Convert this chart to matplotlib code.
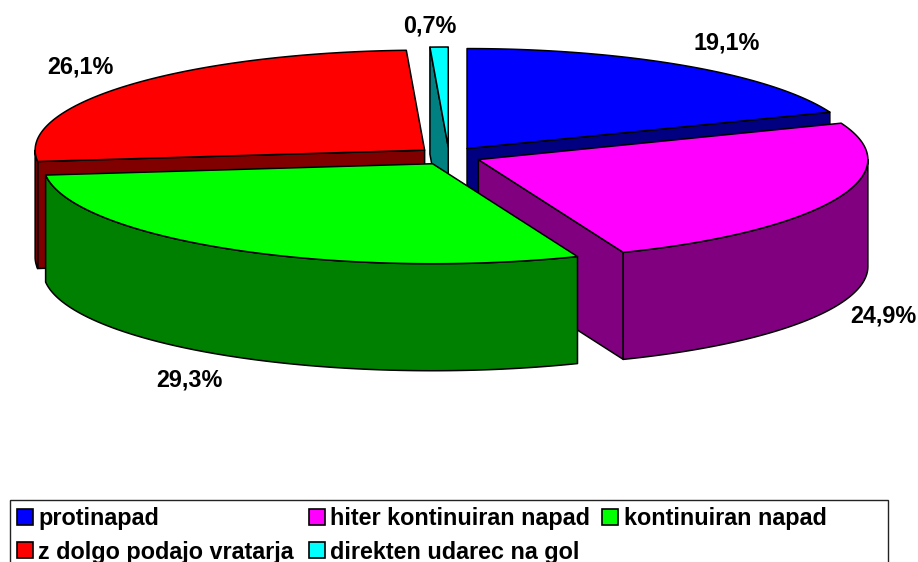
import numpy as np
import matplotlib
matplotlib.use('Agg')
import matplotlib.pyplot as plt
from matplotlib.patches import Polygon, Rectangle

plt.rcParams['font.family'] = ['Liberation Sans', 'DejaVu Sans']

# Data
categories = ['protinapad', 'hiter kontinuiran napad', 'kontinuiran napad',
              'z dolgo podajo vratarja', 'direkten udarec na gol']
shares = [19.1, 24.9, 29.3, 26.1, 0.75]
labels = ['19,1%', '24,9%', '29,3%', '26,1%', '0,7%']
top_colors = ['#0000ff', '#ff00ff', '#00ff00', '#ff0000', '#00ffff']
side_colors = ['#000080', '#800080', '#008000', '#800000', '#008080']

# Pie layout in pixels
cx, cy = 449, 156
rx, ry = 389.5, 100
depth = 107
ex, ey = 32, 9
draw_order = [4, 0, 3, 1, 2]
label_pos = [(727, 43), (883, 316), (189, 380), (80, 67), (430, 26)]

fig = plt.figure(figsize=(9.18, 5.62), dpi=100)
ax = fig.add_axes([0, 0, 1, 1])
ax.set_xlim(0, 918)
ax.set_ylim(562, 0)
ax.axis('off')


def rim(x0, y0, a, b):
    # angles in degrees, clockwise from the top of the ellipse
    t = np.radians(np.linspace(a, b, 150))
    return np.column_stack([x0 + rx * np.sin(t), y0 - ry * np.cos(t)])


def face(pts, color, z):
    ax.add_patch(Polygon(pts, closed=True, facecolor=color, edgecolor='black',
                         linewidth=1.1, joinstyle='round', zorder=z))


ends = np.cumsum(shares) / sum(shares) * 360
starts = ends - np.array(shares) / sum(shares) * 360

z = 1
for i in draw_order:
    a, b = starts[i], ends[i]
    mid = np.radians((a + b) / 2)
    x0 = cx + ex * np.sin(mid)
    y0 = cy - ey * np.cos(mid)
    apex = np.array([x0, y0])
    down = np.array([0, depth])

    # radial walls that face the viewer
    walls = []
    if np.sin(np.radians(a)) < -1e-6:
        walls.append(a)
    if np.sin(np.radians(b)) > 1e-6:
        walls.append(b)
    for ang in walls:
        p = rim(x0, y0, ang, ang)[0]
        face([apex, p, p + down, apex + down], side_colors[i], z)
        z += 1

    # outer wall, only the part facing the viewer
    lo, hi = max(a, 90), min(b, 270)
    if lo < hi:
        arc = rim(x0, y0, lo, hi)
        face(np.vstack([arc, (arc + down)[::-1]]), side_colors[i], z)
        z += 1

    # top
    face(np.vstack([apex, rim(x0, y0, a, b)]), top_colors[i], z)
    z += 1

for txt, (lx, ly) in zip(labels, label_pos):
    ax.text(lx, ly, txt, fontsize=16.8, fontweight='bold', ha='center',
            va='center', color='black', zorder=100)

# Legend, its lower edge is cut off by the image
ax.add_patch(Rectangle((10, 499.5), 878, 80, facecolor='white', edgecolor='#222222',
                       linewidth=1, zorder=101))
swatch_pos = [(17, 509), (309, 509), (602, 509), (17, 542), (309, 542)]
for name, col, (sx, sy) in zip(categories, top_colors, swatch_pos):
    ax.add_patch(Rectangle((sx, sy), 16, 16, facecolor=col, edgecolor='black',
                           linewidth=1.2, zorder=102))
    ax.text(sx + 21.5, sy + 16.5, name, fontsize=16.8, fontweight='bold', ha='left',
            va='baseline', color='black', zorder=102)

fig.savefig('out.png', dpi=100)
